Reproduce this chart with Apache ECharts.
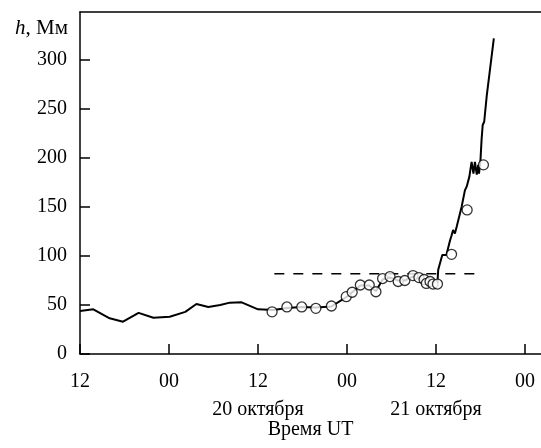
<!DOCTYPE html>
<html><head><meta charset="utf-8">
<script src="https://cdn.jsdelivr.net/npm/echarts@6/dist/echarts.min.js"></script>
<style>html,body{margin:0;padding:0;background:#fff}#c{width:541px;height:448px}</style>
</head><body><div id="c"></div>
<script>
// time in hours since 19 Oct 12:00 UT
var lineHours = [0,1.8,4.0,5.8,7.9,9.9,12.1,14.2,15.7,17.3,18.9,20.2,21.8,24.0,26.1,27.9,29.9,31.8,33.9,35.9,36.7,37.8,39.0,39.9,40.8,41.8,42.9,43.8,44.9,45.7,46.4,47.2,48.2,48.3,48.85,49.4,49.9,50.1,50.3,50.55,50.8,51.45,51.9,52.15,52.5,52.8,53.05,53.25,53.5,53.7,53.8,54.0,54.15,54.3,54.5,54.85,55.8];
var lineH = [44,45.6,36.4,33,42,37,38,43,51,48,50,52.4,52.7,45.6,45,47,48,47.5,48.5,58,63,70,70,64,76,78,75,75,79,77,75,74,73,86,101,101,116,121,126.5,123,130,150,167,171,181,196,184,196,183,193,184,198,219,233.7,237,264,322];
var obsHours = [25.9,27.9,29.9,31.8,33.9,35.9,36.7,37.8,39.0,39.9,40.8,41.8,42.9,43.8,44.9,45.7,46.4,46.7,47.2,47.6,48.2,50.1,52.2,54.4];
var obsH = [43,48,48,46.6,49,58.5,63,70.4,70.4,63.5,77,79,74,75,80,78,76,72,74,71.4,71.4,101.7,147,193];
var dashHours = [26.2,53.9];
var dashLevel = 82;
var xTickLabels = {0:'12',12:'00',24:'12\n20 октября',36:'00',48:'12\n21 октября',60:'00'};
var yTicks = [0,50,100,150,200,250,300];

function pairs(a,b){return a.map(function(v,i){return [v,b[i]];});}
var chart = echarts.init(document.getElementById('c'), null, {renderer:'canvas'});
var font = 'Liberation Serif';
chart.setOption({
  animation:false,
  backgroundColor:'#fff',
  textStyle:{fontFamily:font},
  grid:{left:80,right:0,top:12,bottom:94,containLabel:false,outerBoundsMode:'none'},
  xAxis:[{
    type:'value',min:0,max:62.16,interval:12,
    name:'Время UT',nameLocation:'middle',nameGap:66,nameMoveOverlap:false,
    nameTextStyle:{fontFamily:font,fontSize:20,color:'#000'},
    axisLine:{show:true,lineStyle:{color:'#000',width:1.5}},
    axisTick:{show:true,inside:true,length:10,lineStyle:{color:'#000',width:1.5}},
    axisLabel:{show:true,margin:14,lineHeight:28,fontFamily:font,fontSize:20,color:'#000',showMaxLabel:false,
      formatter:function(v){return xTickLabels.hasOwnProperty(v)?xTickLabels[v]:'';}},
    splitLine:{show:false}
  },{
    type:'value',position:'top',min:0,max:62.16,
    axisLine:{show:true,onZero:false,lineStyle:{color:'#000',width:1.5}},
    axisTick:{show:false},axisLabel:{show:false},splitLine:{show:false}
  }],
  yAxis:{
    type:'value',min:0,max:349,interval:50,
    axisLine:{show:true,lineStyle:{color:'#000',width:1.5}},
    axisTick:{show:true,inside:true,length:10,lineStyle:{color:'#000',width:1.5}},
    axisLabel:{margin:13,fontFamily:font,fontSize:20,color:'#000',showMaxLabel:false,
      formatter:function(v){return yTicks.indexOf(v)>=0?String(v):'';}},
    splitLine:{show:false}
  },
  graphic:[{type:'text',right:541-68,top:18,style:{
    text:'{i|h}, Мм',
    rich:{i:{fontStyle:'italic',fontFamily:font,fontSize:21,fill:'#000'}},
    font:'21px "Liberation Serif"',fill:'#000'}}],
  series:[
    {type:'line',data:pairs(dashHours,[dashLevel,dashLevel]),showSymbol:false,symbol:'none',
     lineStyle:{color:'#000',width:1.5,type:[10,9]},z:2},
    {type:'line',data:pairs(lineHours,lineH),showSymbol:false,symbol:'none',
     lineStyle:{color:'#000',width:2},z:3},
    {type:'scatter',data:pairs(obsHours,obsH),symbol:'circle',symbolSize:10,
     itemStyle:{color:'#fff',borderColor:'#000',borderWidth:1.3},z:4}
  ]
});
</script></body></html>
